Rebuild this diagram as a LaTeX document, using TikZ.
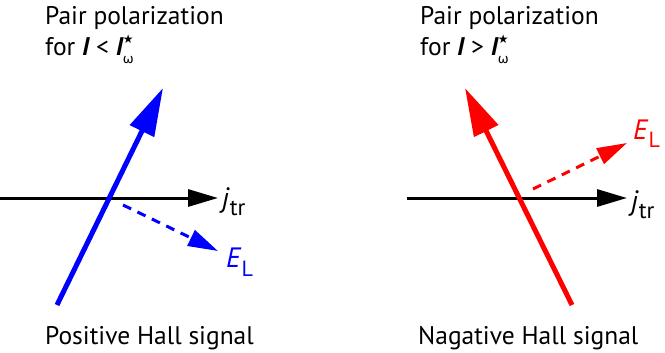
\documentclass[tikz,border=0pt]{standalone}
\usepackage{fontspec}
\setmainfont{PT Sans}
\newfontfamily\symfont{DejaVu Sans}
\usetikzlibrary{arrows.meta}
\definecolor{pairblue}{RGB}{0,0,255}
\definecolor{pairred}{RGB}{255,0,0}
\newcommand{\Ithr}{{\bfseries\itshape I}\makebox[0pt][l]{\raisebox{0.5em}{\fontsize{12}{12}\selectfont\symfont ★}}\raisebox{-0.28em}{\fontsize{13}{13}\selectfont\symfont ω}}
\newcommand{\jtr}{\textit{j}\raisebox{-0.3em}{\fontsize{23}{23}\selectfont tr}}
\newcommand{\EL}{\textit{E}\raisebox{-0.3em}{\fontsize{22}{22}\selectfont L}}
\begin{document}
\begin{tikzpicture}[x=1pt,y=-1pt,
  txt/.style={inner sep=0pt,anchor=base west,font=\fontsize{25.5}{30}\selectfont},
  lbl/.style={inner sep=0pt,anchor=west,font=\fontsize{28}{30}\selectfont},
  jarrow/.style={line width=3pt,-{Triangle[length=30pt,width=17pt]}},
  pairarrow/.style={line width=5pt,-{Triangle[length=48pt,width=26pt]}},
  fieldarrow/.style={line width=3pt,dash pattern=on 9pt off 7pt,-{Triangle[length=30pt,width=17pt]}}]
  \useasboundingbox (0,0) rectangle (665,353);

  % ---------- Left panel ----------
  \node[txt] (titleL) at (45,25) {Pair polarization};
  \node[txt] (condL) at (45,56) {for {\bfseries\itshape I} < \Ithr};
  \coordinate (jLs) at (0,198);
  \coordinate (jLe) at (218,198);
  \draw[jarrow] (jLs) -- (jLe);
  \node[lbl] (jtrL) at (222,202) {\jtr};
  % pair polarization, pointing up-right
  \coordinate (pLs) at (57,305);
  \coordinate (pLe) at (163,88);
  \draw[pairarrow,pairblue] (pLs) -- (pLe);
  % longitudinal field
  \coordinate (eLs) at (123,205);
  \coordinate (eLe) at (218,251);
  \draw[fieldarrow,pairblue] (eLs) -- (eLe);
  \node[lbl,pairblue] (ELL) at (226,262) {\EL};
  \node[txt] (hallL) at (45,344) {Positive Hall signal};

  % ---------- Right panel ----------
  \node[txt] (titleR) at (420,25) {Pair polarization};
  \node[txt] (condR) at (420,56) {for {\bfseries\itshape I} > \Ithr};
  \coordinate (jRs) at (407,198);
  \coordinate (jRe) at (627,198);
  \draw[jarrow] (jRs) -- (jRe);
  \node[lbl] (jtrR) at (631,205) {\jtr};
  % pair polarization, pointing up-left
  \coordinate (pRs) at (572,305);
  \coordinate (pRe) at (465,88);
  \draw[pairarrow,pairred] (pRs) -- (pRe);
  % longitudinal field
  \coordinate (eRs) at (533,189);
  \coordinate (eRe) at (627,143);
  \draw[fieldarrow,pairred] (eRs) -- (eRe);
  \node[lbl,pairred] (ELR) at (633,134) {\EL};
  \node[txt] (hallR) at (418,344) {Nagative Hall signal};
\end{tikzpicture}
\end{document}
